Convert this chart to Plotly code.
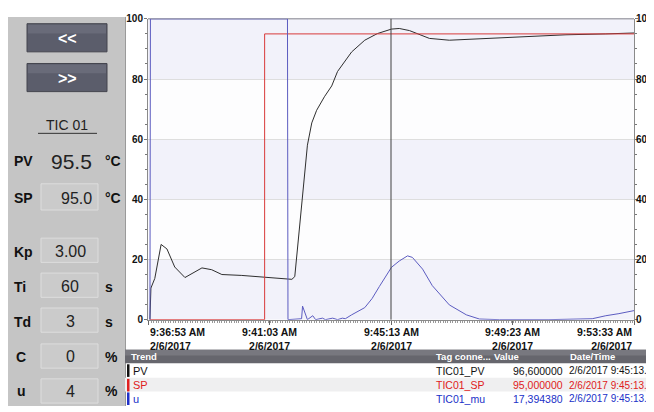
import plotly.graph_objects as go
import pandas as pd

# The page body has an 8px margin, so the figure is drawn 8px smaller and
# all layout positions below are given in window pixels, then shifted.
OFF = 8
W, H = 654 - OFF, 412 - OFF
START = pd.Timestamp("2017-02-06 09:36:53")

# ---- data (seconds after 9:36:53) ----
pv_sec = [4, 6, 14, 27, 39, 55, 76, 90, 111, 131, 152, 193, 226, 240, 296, 302, 308, 316, 322, 328,
          337, 347, 363, 378, 390, 419, 446, 472, 501, 517, 538, 579, 620, 661, 702, 749, 819, 860, 942, 1000]
pv_val = [0, 10.5, 13.7, 25, 23.5, 17.5, 14, 15.3, 17.2, 16.6, 15, 14.7, 14.3, 14, 13.4, 14.3, 24.5, 39.5, 50, 58,
          65.4, 69.6, 74.1, 77.7, 82.5, 89, 92.9, 95.1, 96.6, 96.8, 96.1, 93.5, 92.9, 93.2, 93.5, 93.9, 94.3, 94.7, 95.0, 95.3]

sp_sec = [4, 240, 240, 1000]
sp_val = [0, 0, 95, 95]

u_sec = [4, 5, 287, 288, 316, 318, 328, 339, 345, 359, 365, 380, 390, 400, 406, 419, 446, 461, 476, 501,
         517, 534, 544, 565, 585, 620, 655, 682, 723, 825, 914, 942, 969, 1000]
u_val = [0, 100, 100, 0, 0.3, 4.5, 0, 1.3, 0, 0.5, 0, 0.5, 0, 0.5, 0.3, 1.6, 4, 7, 11, 17.4,
         19.5, 21.2, 20.7, 16.8, 11.3, 4.9, 1.6, 0.2, 0, 0, 0.3, 1.3, 2, 3]

tick_sec = [0, 250, 500, 750, 1000]
tick_time = ["9:36:53 AM", "9:41:03 AM", "9:45:13 AM", "9:49:23 AM", "9:53:33 AM"]
tick_date = "2/6/2017"
cursor_sec = 500

y_ticks = [0, 20, 40, 60, 80, 100]

table_trend = ["PV", "SP", "u"]
table_tag = ["TIC01_PV", "TIC01_SP", "TIC01_mu"]
table_value = ["96,600000", "95,000000", "17,394380"]
table_dt = ["2/6/2017 9:45:13...", "2/6/2017 9:45:13...", "2/6/2017 9:45:13..."]
table_color = ["#111111", "#e02020", "#2030c8"]

panel_labels = ["PV", "SP", "Kp", "Ti", "Td", "C", "u"]
panel_values = ["95.5", "95.0", "3.00", "60", "3", "0", "4"]
panel_units = ["°C", "°C", "", "s", "s", "%", "%"]


def t(s):
    return START + pd.to_timedelta(s, unit="s")


def px(x):
    return (x - OFF) / W


def py(y):
    return 1 - (y - OFF) / H


FONT = "Liberation Sans, Arial, sans-serif"

fig = go.Figure()
fig.add_trace(go.Scatter(x=t(pv_sec), y=pv_val, mode="lines", line=dict(color="#2e2e2e", width=1), name="PV"))
fig.add_trace(go.Scatter(x=t(sp_sec), y=sp_val, mode="lines", line=dict(color="#d83a3a", width=1), name="SP"))
fig.add_trace(go.Scatter(x=t(u_sec), y=u_val, mode="lines", line=dict(color="#5c5cc0", width=1), name="u"))
# right axis carrier
fig.add_trace(go.Scatter(x=[t(0)], y=[0], yaxis="y2", mode="markers", marker=dict(opacity=0), showlegend=False,
                         hoverinfo="skip"))

shapes = []
# left panel
shapes.append(dict(type="rect", xref="paper", yref="paper", x0=px(8), x1=px(125), y0=0, y1=py(11),
                   fillcolor="#c5c5c5", line=dict(width=0), layer="below"))
shapes.append(dict(type="line", xref="paper", yref="paper", x0=px(125.5), x1=px(125.5), y0=0, y1=py(11),
                   line=dict(color="#9a9a9a", width=1), layer="below"))
# buttons
for (y0, y1) in [(18, 47), (59, 88)]:
    shapes.append(dict(type="rect", xref="paper", yref="paper", x0=px(27), x1=px(107), y0=py(y1), y1=py(y0),
                       fillcolor="#5b5d6b", line=dict(color="#44454e", width=1), layer="below"))
    shapes.append(dict(type="rect", xref="paper", yref="paper", x0=px(28), x1=px(106), y0=py(y0 + 10), y1=py(y0 + 1),
                       fillcolor="#696b79", line=dict(width=0), layer="below"))
# TIC underline
shapes.append(dict(type="line", xref="paper", yref="paper", x0=px(38), x1=px(97), y0=py(131), y1=py(131),
                   line=dict(color="#333333", width=1)))
# value boxes
box_rows = [(183, 210), (239, 264), (275, 300), (311, 336), (348, 373), (384, 409)]
for (y0, y1) in box_rows:
    shapes.append(dict(type="rect", xref="paper", yref="paper", x0=px(41), x1=px(98), y0=py(y1), y1=py(y0),
                       fillcolor="#cbcbcb", line=dict(color="#dddddd", width=1), layer="below"))

# plot bands
for lo in [0, 40, 80]:
    shapes.append(dict(type="rect", xref="x domain", yref="y", x0=0, x1=1, y0=lo, y1=lo + 20,
                       fillcolor="#f2f2fa", line=dict(width=0), layer="below"))
# top border
shapes.append(dict(type="line", xref="x domain", yref="y domain", x0=0, x1=1, y0=1, y1=1,
                   line=dict(color="#a8a8b0", width=1.5), layer="below"))
# cursor
shapes.append(dict(type="line", xref="x", yref="y domain", x0=t(cursor_sec), x1=t(cursor_sec), y0=0, y1=1,
                   line=dict(color="#404040", width=1)))

# table
shapes.append(dict(type="rect", xref="paper", yref="paper", x0=px(125), x1=1, y0=py(368), y1=py(354),
                   fillcolor="#66666d", line=dict(width=0)))
shapes.append(dict(type="rect", xref="paper", yref="paper", x0=px(125), x1=1, y0=py(360), y1=py(354),
                   fillcolor="#78787f", line=dict(width=0)))
row_tops = [368, 383, 397]
for i, yt in enumerate(row_tops):
    if i == 1:
        shapes.append(dict(type="rect", xref="paper", yref="paper", x0=px(125), x1=1, y0=py(yt + 14), y1=py(yt),
                           fillcolor="#efeff0", line=dict(width=0)))
    shapes.append(dict(type="rect", xref="paper", yref="paper", x0=px(127), x1=px(129.5), y0=py(yt + 14),
                       y1=py(yt + 1), fillcolor=table_color[i], line=dict(width=0)))

ann = []
ann.append(dict(text="<b>&lt;&lt;</b>", x=px(67), y=py(33), font=dict(color="white", size=16)))
ann.append(dict(text="<b>&gt;&gt;</b>", x=px(67), y=py(74), font=dict(color="white", size=16)))
ann.append(dict(text="TIC 01", x=px(67), y=py(122), font=dict(color="#222", size=14)))

label_y = [160, 198, 253, 289, 325, 361, 397]
for i, lab in enumerate(panel_labels):
    centered = lab in ("C", "u")
    ann.append(dict(text="<b>%s</b>" % lab, x=px(21) if centered else px(12), y=py(label_y[i]),
                    xanchor="center" if centered else "left", font=dict(color="#111", size=14)))
    if i == 0:
        ann.append(dict(text=panel_values[i], x=px(94), y=py(label_y[i]), xanchor="right",
                        font=dict(color="#222", size=21)))
    elif i == 1:
        ann.append(dict(text=panel_values[i], x=px(94), y=py(label_y[i]), xanchor="right",
                        font=dict(color="#222", size=16)))
    else:
        ann.append(dict(text=panel_values[i], x=px(70), y=py(label_y[i]), xanchor="center",
                        font=dict(color="#222", size=16)))
    if panel_units[i]:
        ann.append(dict(text="<b>%s</b>" % panel_units[i], x=px(103), y=py(label_y[i]), xanchor="left",
                        font=dict(color="#111", size=14)))

# x tick labels
for i, s in enumerate(tick_sec):
    anchor = "left" if i == 0 else ("right" if i == len(tick_sec) - 1 else "center")
    ann.append(dict(text="<b>%s<br>%s</b>" % (tick_time[i], tick_date), xref="x", x=t(s), y=py(327),
                    yanchor="top", xanchor=anchor, align=anchor, font=dict(color="#111", size=10.5)))

# table text
hdr = dict(color="white", size=9.5)
ann.append(dict(text="<b>Trend</b>", x=px(129), y=py(361), xanchor="left", font=hdr))
ann.append(dict(text="<b>Tag conne...</b>", x=px(434), y=py(361), xanchor="left", font=hdr))
ann.append(dict(text="<b>Value</b>", x=px(492), y=py(361), xanchor="left", font=hdr))
ann.append(dict(text="<b>Date/Time</b>", x=px(568), y=py(361), xanchor="left", font=hdr))
for i, yt in enumerate(row_tops):
    c = table_color[i]
    yc = py(yt + 7.5)
    ann.append(dict(text=table_trend[i], x=px(130.5), y=yc, xanchor="left", font=dict(color=c, size=11)))
    ann.append(dict(text=table_tag[i], x=px(434), y=yc, xanchor="left", font=dict(color=c, size=10.5)))
    ann.append(dict(text=table_value[i], x=px(565), y=yc, xanchor="right", font=dict(color=c, size=10.5)))
    ann.append(dict(text=table_dt[i], x=px(567), y=yc, xanchor="left", font=dict(color=c, size=10)))

for a in ann:
    a.setdefault("xref", "paper")
    a.setdefault("yref", "paper")
    a.setdefault("xanchor", "center")
    a.setdefault("yanchor", "middle")
    a["showarrow"] = False

axis_y = dict(range=[0, 100], tickvals=y_ticks, ticklen=3, tickcolor="#777",
              showline=True, linecolor="#8a8a8a", linewidth=1, showgrid=True, gridcolor="#dedede",
              zeroline=False, tickfont=dict(family=FONT, size=10, color="#111", weight="bold"),
              fixedrange=True, ticklabeloverflow="allow")

fig.update_layout(
    width=W, height=H, autosize=False,
    margin=dict(l=0, r=0, t=0, b=0),
    paper_bgcolor="white", plot_bgcolor="#fdfdfe",
    showlegend=False,
    font=dict(family=FONT),
    xaxis=dict(range=[t(0), t(1000)], domain=[px(148), px(634)], showticklabels=False,
               tickvals=[t(s) for s in tick_sec], ticks="outside", ticklen=4, tickcolor="#666",
               showline=True, linecolor="#8a8a8a", showgrid=False, zeroline=False,
               minor=dict(dtick=5000, ticks="outside", ticklen=2, tickcolor="#999"), fixedrange=True),
    yaxis=dict(side="left", domain=[py(323), py(13)], ticks="outside", ticklabelstandoff=-1,
               minor=dict(dtick=5, ticks="outside", ticklen=2, tickcolor="#777", showgrid=False), **axis_y),
    yaxis2=dict(side="right", overlaying="y", ticks="outside", ticklabelstandoff=-4,
                minor=dict(dtick=5, ticks="outside", ticklen=2, tickcolor="#777", showgrid=False),
                **{**axis_y, "showgrid": False}),
    shapes=shapes,
    annotations=ann,
)

fig.write_html("out.html")
